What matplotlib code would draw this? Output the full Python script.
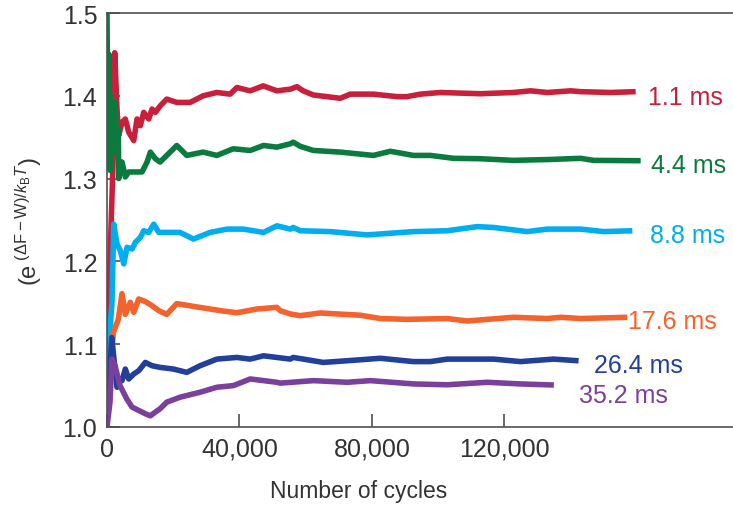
import matplotlib
matplotlib.use("Agg")
import matplotlib.pyplot as plt

plt.rcParams["font.family"] = ["Liberation Sans", "DejaVu Sans"]
plt.rcParams["mathtext.fontset"] = "custom"
plt.rcParams["mathtext.rm"] = "Liberation Sans"
plt.rcParams["mathtext.it"] = "Liberation Sans:italic"
plt.rcParams["mathtext.bf"] = "Liberation Sans:bold"

# Running average of exp((dF - W)/kBT) versus number of cycles, one per cycle time
t11_x = [0, 900, 1900, 2330, 3020, 3540, 4530, 5530, 6560, 8070, 9070, 10070, 11090, 12610,
         13600, 14600, 16110, 18050, 21070, 25090, 29020, 33160, 37180, 39210, 43230, 47160,
         51300, 55320, 57350, 59250, 62270, 70430, 73460, 80410, 87580, 90600, 94620, 100670,
         112760, 122730, 127870, 132920, 139960, 142990, 152060, 159610]
t11_y = [1.100, 1.200, 1.330, 1.452, 1.384, 1.352, 1.368, 1.372, 1.356, 1.346, 1.372, 1.364,
         1.380, 1.372, 1.384, 1.380, 1.388, 1.396, 1.392, 1.392, 1.400, 1.404, 1.402, 1.410,
         1.406, 1.412, 1.406, 1.408, 1.411, 1.406, 1.401, 1.397, 1.402, 1.402, 1.399, 1.399,
         1.402, 1.404, 1.4025, 1.404, 1.406, 1.404, 1.406, 1.405, 1.404, 1.405]

t44_x = [0, 300, 600, 900, 1200, 1510, 1900, 2510, 3020, 3420, 3540, 4530, 5530, 6560, 8560,
         10580, 12090, 13090, 14600, 16020, 18050, 21070, 24090, 29020, 33160, 38090, 43230,
         47250, 51300, 55320, 56230, 58340, 62270, 70430, 80410, 85550, 92500, 97640, 104600,
         112760, 122730, 133010, 142990, 146920, 161120]
t44_y = [1.500, 1.330, 1.450, 1.310, 1.400, 1.340, 1.380, 1.392, 1.330, 1.360, 1.300, 1.320,
         1.302, 1.308, 1.308, 1.308, 1.320, 1.332, 1.324, 1.320, 1.328, 1.340, 1.328, 1.332,
         1.328, 1.336, 1.334, 1.340, 1.338, 1.342, 1.344, 1.339, 1.334, 1.332, 1.328, 1.333,
         1.328, 1.328, 1.3245, 1.324, 1.322, 1.323, 1.3245, 1.322, 1.3216]

t88_x = [0, 1510, 2030, 3020, 4020, 5060, 6050, 7560, 8560, 10070, 11090, 12610, 14120, 15630,
         19040, 22070, 26090, 31140, 36190, 41200, 47250, 51300, 55320, 56230, 58340, 67410,
         78510, 92590, 102690, 111760, 116690, 126870, 132920, 142990, 149940, 158610]
t88_y = [1.070, 1.150, 1.245, 1.221, 1.213, 1.197, 1.217, 1.215, 1.223, 1.229, 1.237, 1.235,
         1.245, 1.235, 1.235, 1.235, 1.227, 1.235, 1.239, 1.239, 1.235, 1.243, 1.239, 1.241,
         1.237, 1.236, 1.232, 1.236, 1.237, 1.242, 1.241, 1.236, 1.239, 1.239, 1.236, 1.237]

t176_x = [0, 900, 1900, 3420, 4530, 5530, 7040, 8070, 9580, 11580, 13600, 15630, 18050, 21070,
          27120, 35160, 39210, 45250, 51300, 52300, 55320, 58340, 64390, 76480, 82530, 90600,
          102690, 108740, 114790, 122820, 132920, 136940, 142990, 157100]
t176_y = [1.030, 1.060, 1.114, 1.130, 1.161, 1.136, 1.1506, 1.1385, 1.1546, 1.1515, 1.1465,
          1.1405, 1.136, 1.149, 1.145, 1.140, 1.138, 1.1425, 1.1445, 1.1405, 1.1365, 1.1345,
          1.1377, 1.135, 1.131, 1.130, 1.131, 1.128, 1.130, 1.1325, 1.131, 1.1325, 1.131, 1.1325]

t264_x = [0, 900, 1420, 3020, 3930, 4530, 5530, 6560, 8070, 9580, 11580, 13600, 16020, 20040,
          24090, 28110, 33160, 39210, 43230, 47250, 51300, 55320, 56230, 65300, 72460, 82530,
          92500, 97640, 102690, 116690, 124850, 134820, 142380]
t264_y = [1.045, 1.070, 1.108, 1.048, 1.058, 1.056, 1.070, 1.058, 1.064, 1.068, 1.078, 1.074,
          1.072, 1.070, 1.066, 1.074, 1.082, 1.084, 1.082, 1.086, 1.084, 1.082, 1.084, 1.078,
          1.080, 1.083, 1.079, 1.079, 1.082, 1.082, 1.079, 1.082, 1.080]

t352_x = [0, 900, 1510, 2420, 3930, 5960, 7560, 9580, 11580, 13090, 14600, 16020, 18050, 22070,
          28110, 33160, 38180, 43230, 47250, 51300, 52300, 62360, 72460, 79500, 92590, 102690,
          114790, 124850, 134920]
t352_y = [1.000, 1.030, 1.082, 1.074, 1.050, 1.034, 1.024, 1.020, 1.016, 1.0135, 1.018, 1.022,
          1.030, 1.036, 1.042, 1.048, 1.050, 1.058, 1.056, 1.054, 1.053, 1.056, 1.054, 1.056,
          1.052, 1.051, 1.054, 1.052, 1.0507]

series_labels = ["1.1 ms", "4.4 ms", "8.8 ms", "17.6 ms", "26.4 ms", "35.2 ms"]
x_ticks = [0, 40000, 80000, 120000]
x_tick_labels = ["0", "40,000", "80,000", "120,000"]
y_ticks = [1.0, 1.1, 1.2, 1.3, 1.4, 1.5]
y_tick_labels = ["1.0", "1.1", "1.2", "1.3", "1.4", "1.5"]

series = [
    (t11_x, t11_y, "#c8203c", (12, -12)),
    (t44_x, t44_y, "#0b7a3e", (10, -11)),
    (t88_x, t88_y, "#00aeef", (18, -11)),
    (t176_x, t176_y, "#f4622d", (1, -11)),
    (t264_x, t264_y, "#22409a", (15, -11)),
    (t352_x, t352_y, "#7b3f9c", (25, -17)),
]

fig = plt.figure(figsize=(7.33, 5.10), dpi=100)
ax = fig.add_axes([107 / 733, 82 / 510, 626 / 733, 414 / 510])

for (xs, ys, color, off), label in zip(series, series_labels):
    ax.plot(xs, ys, color=color, lw=4.0, solid_joinstyle="round", solid_capstyle="butt")
    ax.annotate(label, xy=(xs[-1], ys[-1]), xytext=off, textcoords="offset pixels",
                color=color, fontsize=18, ha="left", va="baseline", annotation_clip=False)

ax.set_xlim(0, 189000)
ax.set_ylim(1.0, 1.5)
ax.set_xticks(x_ticks)
ax.set_xticklabels(x_tick_labels)
ax.set_yticks(y_ticks)
ax.set_yticklabels(y_tick_labels)

spine_color = "#505050"
for side in ["left", "bottom", "top"]:
    ax.spines[side].set_color(spine_color)
    ax.spines[side].set_linewidth(1.2)
ax.spines["right"].set_visible(False)

ax.tick_params(direction="in", length=9.5, width=1.2, color=spine_color,
               labelsize=18, labelcolor="#333333", pad=7)

ax.set_xlabel("Number of cycles", fontsize=16.5, color="#333333", va="top")
ax.xaxis.set_label_coords(0.4026, -0.125)
ax.set_ylabel(r"$(\mathrm{e}^{\ (\Delta\mathrm{F}-\mathrm{W})/k_{\mathrm{B}}T})$",
              fontsize=17, color="#333333", va="center")
ax.yaxis.set_label_coords(-0.125, 0.5)

fig.savefig("out.png", dpi=100)
